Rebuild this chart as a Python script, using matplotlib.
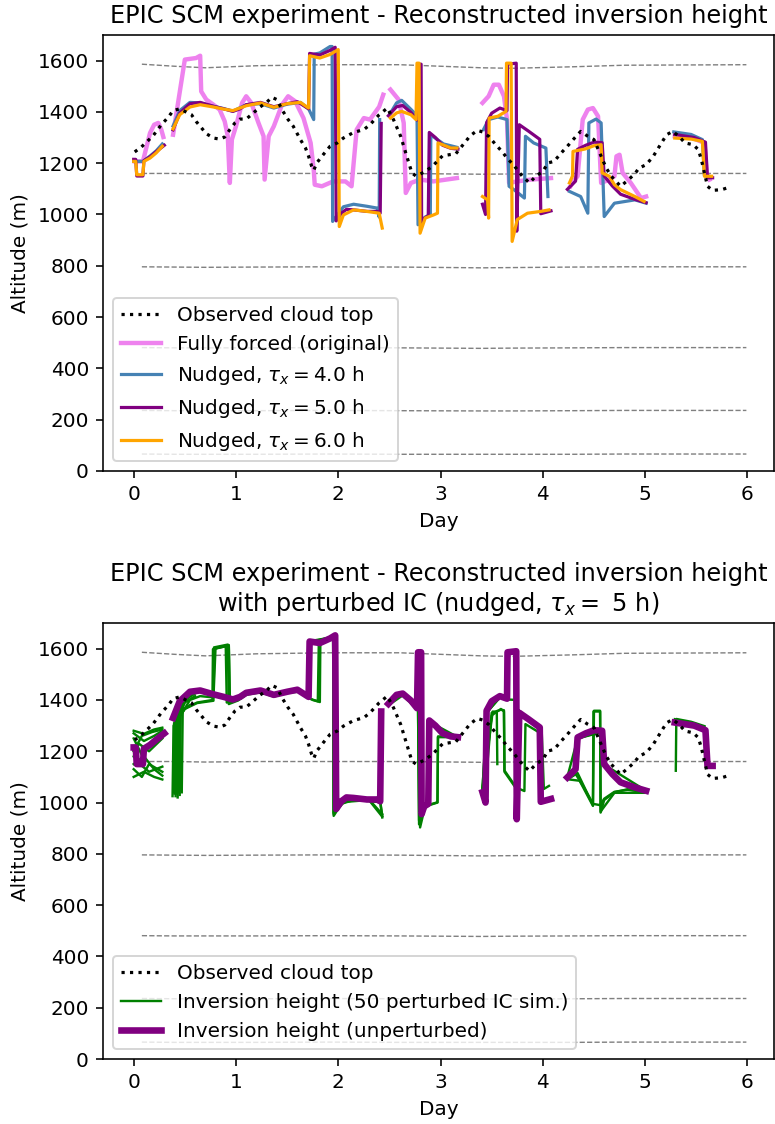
'''
EPIC SCM: reconstructed inversion height (nudged runs + perturbed IC ensemble)
'''
import numpy as np
import matplotlib
matplotlib.use('Agg')
import matplotlib.pyplot as plt

nan = np.nan

# observed cloud top (day, m)
obs = [(0.01, 1244), (0.075, 1263), (0.19, 1307), (0.27, 1350), (0.34, 1380), (0.385, 1405),
       (0.45, 1412), (0.565, 1389), (0.61, 1363), (0.71, 1315), (0.78, 1298), (0.84, 1294),
       (0.89, 1302), (0.94, 1331), (0.99, 1357), (1.04, 1372), (1.10, 1372), (1.15, 1389),
       (1.235, 1419), (1.30, 1437), (1.35, 1457), (1.40, 1448), (1.46, 1402), (1.51, 1370),
       (1.56, 1344), (1.63, 1292), (1.68, 1259), (1.71, 1227), (1.74, 1188), (1.76, 1172),
       (1.79, 1201), (1.84, 1227), (1.92, 1266), (1.99, 1279), (2.05, 1298), (2.15, 1320),
       (2.25, 1331), (2.31, 1350), (2.40, 1389), (2.48, 1415), (2.54, 1370), (2.61, 1305),
       (2.67, 1227), (2.72, 1162), (2.76, 1150), (2.84, 1165), (2.92, 1188), (3.02, 1229),
       (3.15, 1237), (3.20, 1262), (3.29, 1307), (3.36, 1328), (3.41, 1322), (3.47, 1305),
       (3.54, 1272), (3.60, 1246), (3.65, 1220), (3.72, 1190), (3.80, 1149), (3.87, 1123),
       (3.93, 1149), (4.00, 1168), (4.05, 1201), (4.11, 1207), (4.18, 1240), (4.24, 1266),
       (4.31, 1298), (4.37, 1324), (4.44, 1305), (4.50, 1292), (4.57, 1227), (4.62, 1181),
       (4.67, 1149), (4.76, 1110), (4.83, 1133), (4.90, 1159), (4.94, 1181), (5.01, 1194),
       (5.08, 1227), (5.14, 1266), (5.21, 1311), (5.27, 1324), (5.33, 1305), (5.39, 1279),
       (5.47, 1272), (5.52, 1253), (5.55, 1214), (5.58, 1162), (5.61, 1110), (5.66, 1094),
       (5.75, 1097), (5.83, 1107)]

# fully forced run
pink = [
    [(0.01, 1207), (0.09, 1207), (0.16, 1318), (0.20, 1350), (0.24, 1357), (0.27, 1331), (0.29, 1302)],
    [(0.385, 1311), (0.50, 1604), (0.61, 1610), (0.65, 1619), (0.66, 1480), (0.71, 1448), (0.78, 1428),
     (0.84, 1409), (0.89, 1363), (0.92, 1305), (0.94, 1123), (0.96, 1292), (1.00, 1344), (1.06, 1435),
     (1.10, 1461), (1.15, 1435), (1.22, 1357), (1.27, 1305), (1.28, 1136), (1.32, 1305), (1.37, 1344),
     (1.45, 1428), (1.51, 1461), (1.58, 1441), (1.66, 1376), (1.73, 1279), (1.76, 1175), (1.77, 1116),
     (1.84, 1110), (1.95, 1129), (2.07, 1129), (2.13, 1110), (2.18, 1331), (2.25, 1376), (2.31, 1370),
     (2.40, 1420), (2.44, 1467)],
    [(2.51, 1487), (2.59, 1448), (2.64, 1357), (2.66, 1084), (2.71, 1123), (2.80, 1136), (2.93, 1129),
     (3.16, 1142)],
    [(3.41, 1435), (3.47, 1461), (3.52, 1506), (3.57, 1506), (3.62, 1461), (3.65, 1370), (3.67, 1123),
     (3.75, 1129), (3.88, 1136), (4.08, 1142)],
    [(4.27, 1110), (4.31, 1136), (4.34, 1149), (4.39, 1370), (4.44, 1409), (4.49, 1415), (4.54, 1383),
     (4.57, 1123), (4.65, 1136), (4.70, 1149), (4.72, 1227), (4.75, 1233), (4.78, 1162), (4.86, 1123),
     (4.96, 1064), (5.01, 1070)],
    [(5.29, 1305), (5.45, 1300), (5.58, 1279), (5.60, 1162), (5.63, 1136)],
]

# nudged tau = 4 h
blue = [
    [(0.0, 1207), (0.09, 1207), (0.16, 1228), (0.22, 1248), (0.28, 1275)],
    [(0.385, 1345), (0.45, 1405), (0.55, 1437), (0.65, 1435), (0.78, 1422), (0.88, 1413), (0.97, 1403),
     (1.10, 1428), (1.24, 1432), (1.37, 1415), (1.50, 1430), (1.63, 1437), (1.71, 1412), (1.76, 1370),
     (1.765, 1625), (1.82, 1630), (1.92, 1655), (1.94, 1655), (1.945, 973), (2.05, 1030), (2.15, 1040),
     (2.28, 1032), (2.38, 1025), (2.40, 990), (2.405, 1370)],
    [(2.51, 1395), (2.57, 1435), (2.62, 1445), (2.71, 1410), (2.77, 1385), (2.78, 960), (2.85, 990),
     (2.90, 1000), (2.905, 1310), (3.03, 1275), (3.16, 1262)],
    [(3.42, 1331), (3.47, 1370), (3.56, 1380), (3.65, 1370), (3.67, 1110), (3.72, 1096), (3.82, 1064),
     (3.83, 1305), (3.91, 1279), (4.03, 1259), (4.05, 1070)],
    [(4.26, 1090), (4.37, 1070), (4.44, 1005), (4.45, 1357), (4.52, 1372), (4.57, 1357), (4.60, 992),
     (4.70, 1044), (4.90, 1057), (5.01, 1044)],
    [(5.28, 1322), (5.45, 1312), (5.56, 1292), (5.58, 1152), (5.63, 1148)],
]

# nudged tau = 5 h (also the unperturbed run of the ensemble)
purple = [
    [(0.0, 1215), (0.02, 1215), (0.03, 1150), (0.09, 1150), (0.10, 1210), (0.16, 1225), (0.22, 1245),
     (0.30, 1270)],
    [(0.385, 1330), (0.45, 1395), (0.55, 1432), (0.65, 1437), (0.78, 1422), (0.88, 1412), (0.97, 1402),
     (1.04, 1412), (1.10, 1428), (1.24, 1437), (1.37, 1420), (1.50, 1432), (1.60, 1440), (1.71, 1412),
     (1.72, 1628), (1.82, 1622), (1.92, 1640), (1.97, 1652), (1.98, 975), (2.03, 1005), (2.08, 1020),
     (2.15, 1018), (2.28, 1012), (2.38, 1012), (2.41, 1005), (2.42, 1355)],
    [(2.49, 1385), (2.57, 1420), (2.63, 1425), (2.71, 1398), (2.77, 1368), (2.78, 1586), (2.81, 1586),
     (2.815, 955), (2.84, 985), (2.88, 995), (2.89, 1320), (2.95, 1300), (3.02, 1270), (3.10, 1258),
     (3.17, 1255)],
    [(3.41, 1040), (3.44, 1000), (3.45, 1358), (3.50, 1395), (3.58, 1415), (3.65, 1405), (3.655, 1586),
     (3.74, 1590), (3.745, 935), (3.77, 1350), (3.86, 1325), (3.97, 1293), (3.98, 1003), (4.08, 1014)],
    [(4.24, 1098), (4.32, 1130), (4.34, 1254), (4.42, 1270), (4.50, 1282), (4.58, 1280), (4.60, 1150),
     (4.68, 1111), (4.76, 1079), (4.90, 1059), (5.01, 1046)],
    [(5.29, 1312), (5.48, 1300), (5.59, 1282), (5.61, 1143), (5.66, 1143)],
]

# nudged tau = 6 h
orange = [
    [(0.0, 1207), (0.02, 1207), (0.03, 1155), (0.09, 1155), (0.10, 1207), (0.16, 1220), (0.22, 1240),
     (0.28, 1266)],
    [(0.385, 1334), (0.45, 1389), (0.55, 1419), (0.65, 1428), (0.78, 1419), (0.88, 1411), (0.97, 1405),
     (1.10, 1424), (1.24, 1435), (1.37, 1418), (1.50, 1432), (1.63, 1437), (1.71, 1415), (1.72, 1619),
     (1.82, 1610), (1.92, 1624), (2.00, 1643), (2.01, 953), (2.05, 998), (2.15, 1018), (2.28, 1012),
     (2.40, 1005), (2.43, 947)],
    [(2.51, 1376), (2.57, 1396), (2.62, 1402), (2.71, 1389), (2.76, 1370), (2.77, 1590), (2.79, 1590),
     (2.80, 927), (2.85, 986), (2.93, 998), (2.97, 1005), (2.975, 1279), (3.02, 1272), (3.10, 1259),
     (3.16, 1259)],
    [(3.41, 1070), (3.46, 1057), (3.47, 986), (3.475, 1376), (3.56, 1383), (3.64, 1402), (3.645, 1590),
     (3.69, 1590), (3.70, 895), (3.75, 980), (3.85, 1005), (3.98, 1012), (4.06, 1018)],
    [(4.26, 1123), (4.29, 1150), (4.295, 1246), (4.41, 1255), (4.50, 1268), (4.57, 1272), (4.58, 1162),
     (4.65, 1149), (4.70, 1116), (4.76, 1097), (4.90, 1070), (4.99, 1051)],
    [(5.29, 1298), (5.45, 1294), (5.56, 1285), (5.58, 1149), (5.65, 1149)],
]

# a few traces of the perturbed IC ensemble
green = [
    [[(0.0, 1280), (0.1, 1268), (0.2, 1285), (0.28, 1292)],
     [(0.38, 1025), (0.39, 1300), (0.50, 1365), (0.62, 1388), (0.78, 1397), (0.785, 1605), (0.92, 1616),
      (0.93, 1384), (1.02, 1398), (1.10, 1420), (1.24, 1430), (1.37, 1413), (1.50, 1428), (1.63, 1433),
      (1.75, 1400), (1.82, 1392), (1.825, 1630), (1.95, 1645), (1.955, 948), (2.03, 995), (2.15, 1010),
      (2.30, 1006), (2.41, 1003), (2.43, 942)],
     [(2.50, 1380), (2.57, 1415), (2.63, 1420), (2.71, 1393), (2.79, 1362), (2.80, 903), (2.85, 987),
      (2.97, 1001), (2.975, 1255), (3.10, 1255), (3.16, 1258)],
     [(3.41, 1050), (3.51, 1355), (3.55, 1352), (3.555, 1150)],
     [(4.26, 1090), (4.36, 1085), (4.49, 987), (4.50, 1358), (4.56, 1358), (4.565, 961), (4.60, 1010),
      (4.70, 1040), (4.83, 1052), (4.99, 1040)],
     [(5.30, 1124), (5.305, 1326), (5.45, 1315), (5.58, 1298)]],
    [[(0.0, 1250), (0.08, 1185), (0.2, 1240), (0.28, 1270)],
     [(0.40, 1035), (0.41, 1310), (0.50, 1368), (0.62, 1390), (0.77, 1400), (0.775, 1598), (0.90, 1610),
      (0.91, 1390), (1.02, 1400), (1.10, 1422), (1.24, 1432), (1.37, 1416), (1.50, 1430), (1.63, 1435),
      (1.72, 1405), (1.80, 1395), (1.81, 1625), (1.95, 1640), (1.955, 955), (2.05, 1000), (2.15, 1012),
      (2.30, 1008), (2.42, 1000)],
     [(2.50, 1385), (2.57, 1418), (2.63, 1422), (2.71, 1396), (2.78, 1365), (2.79, 930), (2.85, 990),
      (2.88, 1000), (2.885, 1320), (3.02, 1268), (3.16, 1255)],
     [(3.43, 1020), (3.50, 1350), (3.59, 1362), (3.62, 1360), (3.625, 1120), (3.73, 1060), (3.82, 1045),
      (3.83, 1306), (3.99, 1267), (4.01, 1053), (4.06, 1065)],
     [(4.32, 1112), (4.40, 1060), (4.47, 1010), (4.49, 995), (4.56, 990), (4.60, 1015), (4.70, 1042),
      (4.83, 1050), (4.99, 1042)],
     [(5.29, 1318), (5.45, 1312), (5.58, 1292), (5.60, 1145)]],
    [[(0.0, 1130), (0.08, 1100), (0.15, 1150), (0.28, 1120)],
     [(0.43, 1020), (0.44, 1390), (0.55, 1435), (0.65, 1440), (0.78, 1425), (0.79, 1600), (0.93, 1612),
      (0.94, 1400), (1.10, 1428), (1.24, 1435), (1.37, 1420), (1.50, 1432), (1.60, 1440), (1.70, 1413),
      (1.72, 1628), (1.82, 1622), (1.92, 1640), (1.97, 1650), (1.98, 975), (2.03, 1005), (2.15, 1018),
      (2.28, 1012), (2.41, 1005), (2.43, 950)],
     [(2.49, 1385), (2.57, 1420), (2.63, 1425), (2.71, 1398), (2.77, 1368), (2.78, 1586), (2.81, 1586),
      (2.815, 955), (2.84, 985), (2.88, 995), (2.89, 1320), (3.02, 1270), (3.17, 1255)],
     [(3.41, 1045), (3.45, 1350), (3.58, 1410), (3.65, 1400), (3.655, 1580), (3.74, 1585), (3.745, 940),
      (3.77, 1345), (3.97, 1290), (3.98, 1005), (4.08, 1012)],
     [(4.24, 1100), (4.32, 1125), (4.34, 1250), (4.58, 1275), (4.60, 1145), (4.76, 1075), (5.01, 1045)],
     [(5.29, 1325), (5.48, 1305), (5.59, 1285), (5.61, 1140)]],
    [[(0.0, 1100), (0.1, 1120), (0.2, 1100), (0.28, 1090)],
     [(0.45, 1030), (0.46, 1340), (0.55, 1400), (0.65, 1415), (0.78, 1410), (0.80, 1602), (0.93, 1614),
      (0.94, 1395), (1.10, 1425), (1.24, 1432), (1.37, 1415), (1.50, 1430), (1.63, 1436), (1.72, 1410),
      (1.73, 1630), (1.95, 1645), (1.955, 960), (2.05, 1002), (2.30, 1010), (2.43, 945)],
     [(2.50, 1382), (2.63, 1418), (2.78, 1362), (2.79, 915), (2.85, 985), (2.97, 1000), (2.975, 1258),
      (3.16, 1256)],
     [(3.41, 1055), (3.50, 1340), (3.59, 1365), (3.62, 1355), (3.625, 1125), (3.72, 1070)],
     [(4.26, 1095), (4.34, 1115), (4.49, 990), (4.495, 1355), (4.56, 1355), (4.565, 965), (4.70, 1038),
      (4.99, 1038)],
     [(5.30, 1320), (5.58, 1295), (5.60, 1145)]],
    [[(0.0, 1180), (0.05, 1230), (0.15, 1200), (0.28, 1250)],
     [(0.47, 1040), (0.48, 1380), (0.55, 1425), (0.65, 1435), (0.78, 1420), (0.88, 1410), (0.97, 1400),
      (1.10, 1426), (1.24, 1434), (1.37, 1418), (1.50, 1430), (1.63, 1436), (1.71, 1412), (1.72, 1625),
      (1.96, 1648), (1.97, 970), (2.05, 1010), (2.30, 1012), (2.43, 955)],
     [(2.49, 1388), (2.63, 1422), (2.77, 1365), (2.78, 1580), (2.80, 1580), (2.805, 950), (2.88, 995),
      (2.89, 1315), (3.17, 1255)],
     [(3.41, 1060), (3.46, 1355), (3.58, 1410), (3.65, 1402), (3.745, 1400), (3.75, 940), (3.77, 1348),
      (3.97, 1292), (3.98, 1008), (4.08, 1015)],
     [(4.24, 1100), (4.34, 1250), (4.58, 1278), (4.60, 1148), (5.01, 1046)],
     [(5.29, 1315), (5.59, 1283), (5.61, 1142)]],
    # 只在开头可见的几条
    [[(0.0, 1270), (0.1, 1240), (0.2, 1260), (0.28, 1280)],
     [(0.41, 1025), (0.415, 1330), (0.5, 1400), (0.6, 1425)]],
    [[(0.0, 1220), (0.06, 1150), (0.15, 1120), (0.28, 1140)],
     [(0.42, 1035), (0.425, 1320), (0.5, 1390), (0.6, 1415)]],
    [[(0.0, 1150), (0.1, 1180), (0.2, 1130), (0.28, 1105)],
     [(0.44, 1040), (0.445, 1350), (0.5, 1410), (0.6, 1430)]],
    [[(0.0, 1200), (0.08, 1260), (0.18, 1275), (0.28, 1285)],
     [(0.39, 1040), (0.395, 1310), (0.45, 1350), (0.55, 1380)]],
]

# model levels (slightly wavy), shared day nodes
lev_day = [0.08, 0.4, 0.7, 1.2, 1.9, 2.6, 3.4, 3.7, 4.3, 4.8, 5.99]
levels = [
    [1586, 1578, 1572, 1580, 1584, 1584, 1572, 1570, 1576, 1582, 1584],
    [1160, 1160, 1158, 1160, 1160, 1160, 1157, 1158, 1160, 1160, 1160],
    [796, 795, 794, 795, 796, 795, 792, 793, 795, 796, 796],
    [481, 480, 480, 480, 481, 480, 478, 479, 480, 481, 481],
    [236, 235, 235, 235, 236, 235, 234, 234, 235, 236, 236],
    [66, 65, 65, 65, 66, 65, 65, 65, 65, 66, 66],
]


def join(segs):
    '''把分段数据拼成带 NaN 断点的一条线'''
    xs, ys = [], []
    for seg in segs:
        for d, a in seg:
            xs.append(d)
            ys.append(a)
        xs.append(nan)
        ys.append(nan)
    return np.array(xs), np.array(ys)


def draw_levels(ax):
    for lev in levels:
        ax.plot(lev_day, lev, '--', color='grey', lw=0.7, zorder=1)


def finish(ax):
    ax.set_xlim(-0.3, 6.26)
    ax.set_ylim(0, 1700)
    ax.set_yticks(range(0, 1601, 200))
    ax.set_xticks(range(0, 7))
    ax.set_xlabel('Day')
    ax.set_ylabel('Altitude (m)')


obs_day = [p[0] for p in obs]
obs_alt = [p[1] for p in obs]

DPI = 144
fig = plt.figure(figsize=(775 / DPI, 1124 / DPI), dpi=DPI)

# 上图：不同 nudging 时间尺度
ax1 = fig.add_axes([0.1329, 0.5810, 0.8658, 0.3879])
draw_levels(ax1)
ax1.plot(obs_day, obs_alt, ':', color='black', lw=1.6, label='Observed cloud top', zorder=5)
x, y = join(pink)
ax1.plot(x, y, color='violet', lw=2.2, label='Fully forced (original)')
x, y = join(blue)
ax1.plot(x, y, color='steelblue', lw=1.6, label=r'Nudged, $\tau_x = 4.0$ h')
x, y = join(purple)
ax1.plot(x, y, color='purple', lw=1.6, label=r'Nudged, $\tau_x = 5.0$ h')
x, y = join(orange)
ax1.plot(x, y, color='orange', lw=1.6, label=r'Nudged, $\tau_x = 6.0$ h')
ax1.set_title('EPIC SCM experiment - Reconstructed inversion height')
ax1.legend(loc='lower left')
finish(ax1)

# 下图：扰动初始条件
ax2 = fig.add_axes([0.1329, 0.0578, 0.8658, 0.3879])
draw_levels(ax2)
ax2.plot(obs_day, obs_alt, ':', color='black', lw=1.6, label='Observed cloud top', zorder=5)
for i, trace in enumerate(green):
    x, y = join(trace)
    ax2.plot(x, y, color='green', lw=1.2,
             label='Inversion height (50 perturbed IC sim.)' if i == 0 else None)
x, y = join(purple)
ax2.plot(x, y, color='purple', lw=3.3, label='Inversion height (unperturbed)', zorder=4)
ax2.set_title('EPIC SCM experiment - Reconstructed inversion height\n'
              r'with perturbed IC (nudged, $\tau_x =$ 5 h)')
ax2.legend(loc='lower left')
finish(ax2)

fig.savefig('out.png', dpi=DPI)
